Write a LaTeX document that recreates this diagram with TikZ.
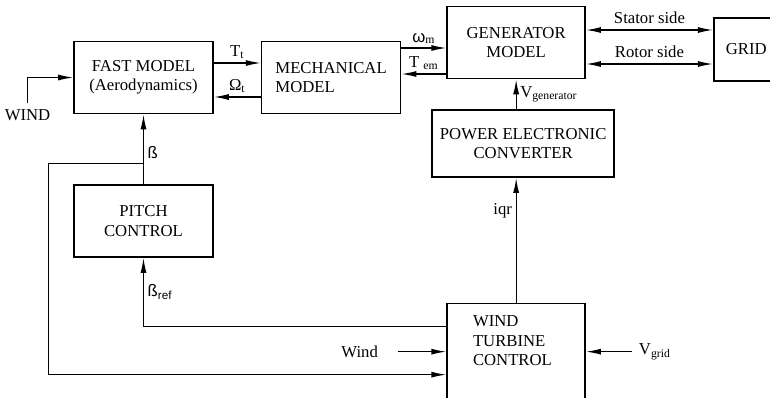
\documentclass[tikz,border=0pt]{standalone}
\usepackage{fontspec}
\setmainfont{Liberation Serif}
\setsansfont{Liberation Sans}
\usetikzlibrary{arrows.meta, positioning, calc}

\begin{document}
\begin{tikzpicture}[node distance=0.94cm, >={Latex[length=3mm, width=1.2mm]},
  font=\fontsize{9.5}{11}\selectfont, line width=0.75pt,
  block/.style={draw, line width=0.9pt, minimum width=2.78cm, minimum height=1.44cm, align=center, inner sep=1pt},
  lbl/.style={inner sep=2pt}]
  \useasboundingbox (0,0) rectangle (15.4,-7.96);

  % Turbine chain
  \node[block] (fast) at (2.87,-1.55) {FAST MODEL\\(Aerodynamics)};
  \node[block, right=of fast, align=left] (mech) {MECHANICAL\\MODEL};
  \node[block, minimum width=2.76cm, right=0.9cm of mech, yshift=0.7cm] (gen) {GENERATOR\\MODEL};
  \node[block, minimum width=1.3cm, minimum height=1.26cm, right=2.54cm of gen, yshift=-0.14cm] (grid) {GRID};
  \draw[->] ([yshift=0.29cm]fast.east) -- ([yshift=0.29cm]fast.east -| mech.west) node[midway, above, lbl] {T\textsubscript{t}};
  \draw[->] ([yshift=-0.39cm]fast.east -| mech.west) -- ([yshift=-0.39cm]fast.east) node[midway, above, lbl] {Ω\textsubscript{t}};
  \draw[->] ([yshift=-0.11cm]gen.west -| mech.east) -- ([yshift=-0.11cm]gen.west) node[midway, above, lbl] {{\sffamily ω}\textsubscript{m}};
  \draw[->] ([yshift=-0.63cm]gen.west) -- ([yshift=-0.63cm]gen.west -| mech.east) node[midway, above, lbl] {T\ \textsubscript{em}};
  \draw[<->] ([yshift=0.25cm]gen.east) -- ([yshift=0.25cm]gen.east -| grid.west) node[midway, above, lbl, yshift=1pt] {Stator side};
  \draw[<->] ([yshift=-0.43cm]gen.east) -- ([yshift=-0.43cm]gen.east -| grid.west) node[midway, above, lbl, yshift=1pt] {Rotor side};

  % Wind input
  \node (windlbl) at (0.55,-2.3) {WIND};
  \draw[->] (windlbl.north) |- (fast.west);

  % Converter
  \node[block, minimum width=3.64cm, minimum height=1.34cm, below=0.6cm of gen, xshift=0.14cm] (conv) {POWER ELECTRONIC\\CONVERTER};
  \draw[->] (conv.north -| gen.south) -- (gen.south) node[midway, right, lbl] {V\textsubscript{generator}};

  % Pitch loop
  \node[block, below=1.4cm of fast] (pitch) {PITCH\\CONTROL};
  \coordinate (bsplit) at ([yshift=0.42cm]pitch.north);
  \draw[->] (pitch.north) -- (fast.south);
  \node[above right, inner sep=2pt] at (bsplit) {\sffamily ß};

  % Turbine control
  \node[block, minimum width=2.76cm, minimum height=2.2cm, below=2.5cm of conv, xshift=-0.14cm] (wtc) {};
  \node[align=left, inner sep=0pt, anchor=north west] (wtctext) at ([xshift=0.52cm, yshift=-0.25cm]wtc.north west) {WIND\\TURBINE\\CONTROL};
  \draw[->] (wtc.north) -- (wtc.north |- conv.south) node[pos=0.74, left, lbl] {iqr};
  \draw[->] (bsplit) -- ++(-1.9,0) |- ([yshift=-0.32cm]wtc.west);
  \draw[->] ([yshift=0.64cm]wtc.west) -| (pitch.south) node[pos=0.75, right, lbl] {\sffamily ß\textsubscript{ref}};
  \coordinate (windtail) at ([yshift=0.14cm, xshift=-0.96cm]wtc.west);
  \node[left=0.28cm of windtail] (windin) {Wind};
  \draw[->] (windtail) -- (windtail -| wtc.west);
  \coordinate (vgridtail) at ([yshift=0.14cm, xshift=0.93cm]wtc.east);
  \node[right=0cm of vgridtail] (vgridlbl) {V\textsubscript{grid}};
  \draw[->] (vgridtail) -- (vgridtail -| wtc.east);
\end{tikzpicture}
\end{document}
